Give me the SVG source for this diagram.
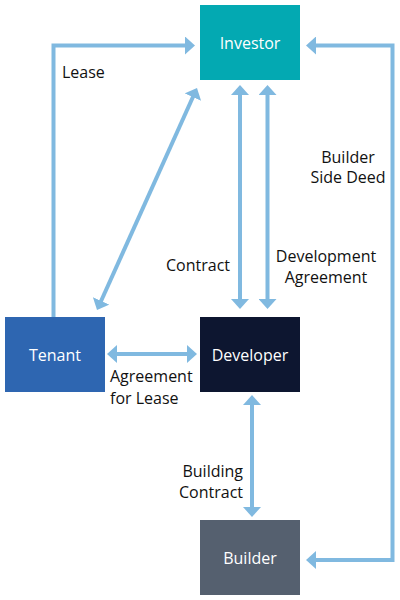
<svg xmlns="http://www.w3.org/2000/svg" width="400" height="600" viewBox="0 0 400 600">
<defs>
<marker id="ah" viewBox="0 0 10 18" refX="2" refY="9" markerWidth="10" markerHeight="18" markerUnits="userSpaceOnUse" orient="auto-start-reverse">
<path d="M0,0 L10,9 L0,18 z" fill="#80B9E0"/>
</marker>
<style>
.c{fill:none;stroke:#80B9E0;stroke-width:4}
.nl{font-family:"Open Sans","Liberation Sans",sans-serif;font-size:16px;fill:#ffffff;text-anchor:middle}
.lb{font-family:"Open Sans","Liberation Sans",sans-serif;font-size:16px;fill:#111111}
</style>
</defs>
<rect width="400" height="600" fill="#ffffff"/>
<g id="connectors">
<path class="c" d="M53.5,317 V45.5 H187" marker-end="url(#ah)"/>
<path class="c" d="M314,45.5 H392.5 V560 H314" marker-start="url(#ah)" marker-end="url(#ah)"/>
<path class="c" d="M100.3,302.7 L193.7,95.3" marker-start="url(#ah)" marker-end="url(#ah)"/>
<path class="c" d="M240,93 V301" marker-start="url(#ah)" marker-end="url(#ah)"/>
<path class="c" d="M267.5,93 V301" marker-start="url(#ah)" marker-end="url(#ah)"/>
<path class="c" d="M115,354 H189" marker-start="url(#ah)" marker-end="url(#ah)"/>
<path class="c" d="M252,403 V509" marker-start="url(#ah)" marker-end="url(#ah)"/>
</g>
<g id="labels">
<text class="lb" x="62" y="78">Lease</text>
<text class="lb" x="348" y="163" text-anchor="middle">Builder</text>
<text class="lb" x="348" y="183" text-anchor="middle">Side Deed</text>
<text class="lb" x="230" y="271" text-anchor="end">Contract</text>
<text class="lb" x="326" y="262" text-anchor="middle">Development</text>
<text class="lb" x="326" y="283" text-anchor="middle">Agreement</text>
<text class="lb" x="110" y="382">Agreement</text>
<text class="lb" x="110" y="404">for Lease</text>
<text class="lb" x="243" y="477" text-anchor="end">Building</text>
<text class="lb" x="243" y="498" text-anchor="end">Contract</text>
</g>
<g id="investor">
<rect x="200" y="5" width="100" height="75" fill="#03A9B2"/>
<text class="nl" x="250" y="49">Investor</text>
</g>
<g id="tenant">
<rect x="5" y="317" width="100" height="75" fill="#2E66B1"/>
<text class="nl" x="55" y="361">Tenant</text>
</g>
<g id="developer">
<rect x="200" y="317" width="100" height="75" fill="#0D1630"/>
<text class="nl" x="250" y="361">Developer</text>
</g>
<g id="builder">
<rect x="200" y="520" width="100" height="75" fill="#55606F"/>
<text class="nl" x="250" y="564">Builder</text>
</g>
</svg>
